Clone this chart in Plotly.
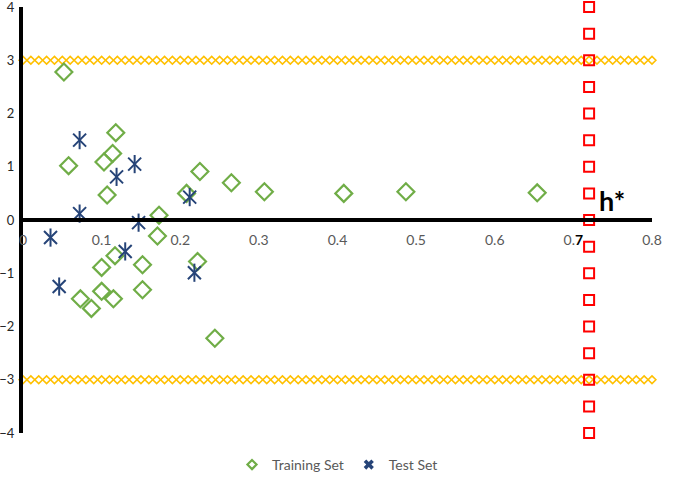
import numpy as np
import plotly.graph_objects as go

# leverage (x) and standardized residual (y)
train_h = [0.052, 0.058, 0.118, 0.114, 0.103, 0.107, 0.173, 0.171, 0.225, 0.208,
           0.265, 0.307, 0.408, 0.487, 0.654, 0.244, 0.222, 0.117, 0.100, 0.152,
           0.073, 0.100, 0.115, 0.087, 0.152]
train_res = [2.78, 1.02, 1.64, 1.25, 1.09, 0.47, 0.09, -0.30, 0.91, 0.50,
             0.70, 0.53, 0.50, 0.53, 0.51, -2.22, -0.78, -0.67, -0.89, -0.84,
             -1.48, -1.34, -1.48, -1.66, -1.31]

test_h = [0.072, 0.119, 0.142, 0.072, 0.212, 0.147, 0.035, 0.130, 0.046, 0.218]
test_res = [1.50, 0.81, 1.05, 0.12, 0.43, -0.05, -0.33, -0.59, -1.25, -0.99]

h_star = 0.72
res_limit = 3
limit_x = np.round(np.arange(0, 0.8001, 0.01), 2)
hstar_y = np.arange(-4, 4.001, 0.5)

x_ticks = [0, 0.1, 0.2, 0.3, 0.4, 0.5, 0.6, 0.7, 0.8]
x_labels = ["0", "0.1", "0.2", "0.3", "0.4", "0.5", "0.6",
            "0.<b><span style='color:black'>7</span></b>", "0.8"]
y_ticks = [-4, -3, -2, -1, 0, 1, 2, 3, 4]

GREEN = "#70AD47"
NAVY = "#264478"

fig = go.Figure()

# residual limits +-3
for lim in (res_limit, -res_limit):
    fig.add_trace(go.Scatter(
        x=limit_x, y=[lim] * len(limit_x), mode="markers", showlegend=False,
        marker=dict(symbol="diamond-open", size=6, color="#FFC000",
                    line=dict(width=1.6, color="#FFC000")),
        cliponaxis=False, hoverinfo="skip"))

# warning leverage h*
fig.add_trace(go.Scatter(
    x=[h_star] * len(hstar_y), y=hstar_y, mode="markers", showlegend=False,
    marker=dict(symbol="square-open", size=10, color="#FF0000",
                line=dict(width=2, color="#FF0000")),
    cliponaxis=False))

fig.add_trace(go.Scatter(
    x=train_h, y=train_res, mode="markers", showlegend=False,
    marker=dict(symbol="diamond-open", size=13, color=GREEN,
                line=dict(width=2.2, color=GREEN)),
    cliponaxis=False))

# excel style star = x + vertical line
fig.add_trace(go.Scatter(
    x=test_h, y=test_res, mode="markers", showlegend=False,
    marker=dict(symbol="line-ns-open", size=13, color=NAVY,
                line=dict(width=2, color=NAVY)),
    cliponaxis=False))
fig.add_trace(go.Scatter(
    x=test_h, y=test_res, mode="markers", showlegend=False,
    marker=dict(symbol="x-thin-open", size=13, color=NAVY,
                line=dict(width=2, color=NAVY)),
    cliponaxis=False))

# small legend markers like excel
fig.add_trace(go.Scatter(
    x=[None], y=[None], mode="markers", name="Training Set",
    marker=dict(symbol="diamond-open", size=7, color=GREEN,
                line=dict(width=2.2, color=GREEN))))
fig.add_trace(go.Scatter(
    x=[None], y=[None], mode="markers", name="Test Set",
    marker=dict(symbol="x", size=9, color=NAVY,
                line=dict(width=0, color=NAVY))))

fig.add_annotation(x=h_star + 0.01, y=0.36, xref="x", yref="y", text="<b>h*</b>",
                   showarrow=False, xanchor="left", yanchor="middle",
                   font=dict(size=27, color="black", family="Lato"))

fig.update_layout(
    width=685, height=496,
    margin=dict(l=23, r=33, t=7, b=63),
    plot_bgcolor="white", paper_bgcolor="white",
    font=dict(family="Lato, Open Sans, sans-serif", size=14, color="#595959"),
    showlegend=True,
    legend=dict(orientation="h", x=0.5, xanchor="center", y=-0.075,
                yanchor="middle", font=dict(size=14, color="#595959"),
                itemwidth=30, tracegroupgap=0),
    xaxis=dict(range=[0, 0.8], tickvals=x_ticks, ticktext=x_labels,
               showgrid=False, zeroline=False, showline=True,
               linecolor="black", linewidth=4, ticks="",
               anchor="free", position=0.5, automargin=False,
               ticklabelstandoff=6),
    yaxis=dict(range=[-4, 4], tickvals=y_ticks, showgrid=False, zeroline=False,
               showline=True, linecolor="black", linewidth=4, ticks="",
               automargin=False, ticklabelstandoff=2, ticklabeloverflow="allow",
               tickfont=dict(size=13, color="#262626")),
)

# the page body has an 8px default margin, drop it so the figure sits at 0,0
fig.write_html("out.html", config={"displayModeBar": False},
               post_script="document.body.style.margin='0';")
